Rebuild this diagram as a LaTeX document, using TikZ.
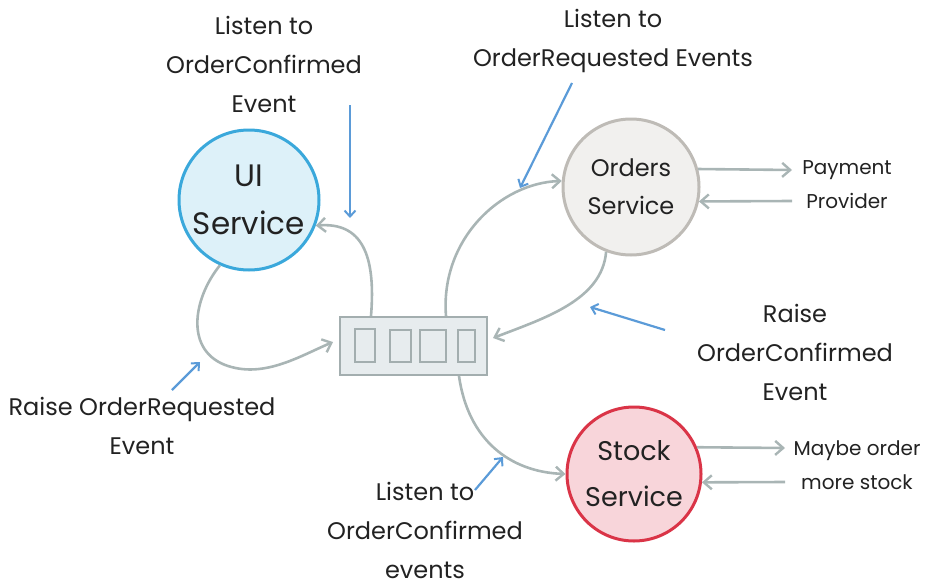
\documentclass[tikz,border=0pt]{standalone}
\usepackage{fontspec}
\setmainfont{Poppins}
\usetikzlibrary{arrows.meta,calc}
\definecolor{uifill}{HTML}{DDF1F9}
\definecolor{uiline}{HTML}{3AA8DB}
\definecolor{orfill}{HTML}{F1F0EE}
\definecolor{orline}{HTML}{BEBBB6}
\definecolor{stfill}{HTML}{F8D5DA}
\definecolor{stline}{HTML}{DA3447}
\definecolor{conn}{HTML}{A9B5B5}
\definecolor{qfill}{HTML}{E7ECEE}
\definecolor{qline}{HTML}{A3AEAF}
\definecolor{note}{HTML}{5B9BD8}
\definecolor{ink}{HTML}{222222}
\tikzset{
  svc/.style={circle, line width=3pt, minimum size=136pt, inner sep=0pt, align=center, text=ink},
  conn/.style={draw=conn, line width=2.6pt, -{Straight Barb[length=8pt,width=14pt,line width=2.4pt]}},
  notearr/.style={draw=note, line width=2.2pt, -{Straight Barb[length=6pt,width=11pt,line width=2pt]}},
  lbl/.style={align=center, text=ink, font=\fontsize{24}{39}\selectfont, inner sep=0pt},
  slot/.style={draw=qline, fill=qfill, line width=2pt},
}
\begin{document}
\begin{tikzpicture}[x=1pt,y=-1pt]
\useasboundingbox (0,0) rectangle (926,586);
% services
\node[svc, fill=uifill, draw=uiline, minimum size=140pt, font=\fontsize{31}{48}\selectfont] (ui) at (249,200) {UI\\Service};
\node[svc, fill=orfill, draw=orline, font=\fontsize{24}{38}\selectfont] (or) at (631,187) {Orders\\Service};
\node[svc, fill=stfill, draw=stline, minimum size=134pt, font=\fontsize{27}{46}\selectfont] (st) at (634,474) {Stock\\Service};
% queue
\node[draw=qline, fill=qfill, line width=2pt, minimum width=147pt, minimum height=58pt, inner sep=0pt] (q) at (413.5,346) {};
\node[slot, minimum width=20pt, minimum height=33pt, inner sep=0pt] (s1) at (365,345.5) {};
\node[slot, minimum width=21pt, minimum height=32pt, inner sep=0pt] (s2) at (400.5,346) {};
\node[slot, minimum width=26pt, minimum height=32pt, inner sep=0pt] (s3) at (433,346) {};
\node[slot, minimum width=17pt, minimum height=32pt, inner sep=0pt] (s4) at (466.5,346) {};
% labels
\node[lbl] (t1) at (264,64) {Listen to\\OrderConfirmed\\Event};
\node[lbl] (t2) at (613,41) {Listen to\\OrderRequested Events};
\node[lbl] (t3) at (795,352) {Raise\\OrderConfirmed\\Event};
\node[lbl] (t4) at (142,426) {Raise OrderRequested\\Event};
\node[lbl] (t5) at (425,530) {Listen to\\OrderConfirmed\\events};
\node[lbl, font=\fontsize{20}{34}\selectfont] (pay) at (847,185) {Payment\\Provider};
\node[lbl, font=\fontsize{20}{34}\selectfont] (may) at (857,465) {Maybe order\\more stock};
% connectors
\draw[conn] ($(q.north west)+(32,0)$) .. controls (376,255) and (362,222) .. (ui.-21);
\draw[conn] (ui.-114) .. controls (192,300) and (185,352) .. (228,366) .. controls (265,378) and (300,356) .. ($(q.west)+(-6,-4)$);
\draw[conn] ($(q.north west)+(107,0)$) .. controls (440,240) and (500,183) .. (or.175);
\draw[conn] (or.-111) .. controls (602,300) and (545,318) .. ($(q.east)+(5,-8)$);
\draw[conn] ($(q.south west)+(120,0)$) .. controls (468,440) and (510,472) .. (st.180);
\coordinate (payin) at (792,170);
\coordinate (payout) at (792,201);
\coordinate (maybein) at (785,448);
\coordinate (maybeout) at (785,482);
\draw[conn] (or.15) -- (payin);
\draw[conn] (payout) -- (or.-12);
\draw[conn] (st.23) -- (maybein);
\draw[conn] (maybeout) -- (st.-7);
% annotation arrows
\coordinate (a1s) at (350,105); \coordinate (a1e) at (350,218);
\coordinate (a2s) at (572,83);  \coordinate (a2e) at (520,188);
\coordinate (a3s) at (665,330); \coordinate (a3e) at (590,307);
\coordinate (a4s) at (172,390); \coordinate (a4e) at (200,362);
\coordinate (a5s) at (475,490); \coordinate (a5e) at (503,457);
\draw[notearr] (a1s) -- (a1e);
\draw[notearr] (a2s) -- (a2e);
\draw[notearr] (a3s) -- (a3e);
\draw[notearr] (a4s) -- (a4e);
\draw[notearr] (a5s) -- (a5e);
\end{tikzpicture}
\end{document}
